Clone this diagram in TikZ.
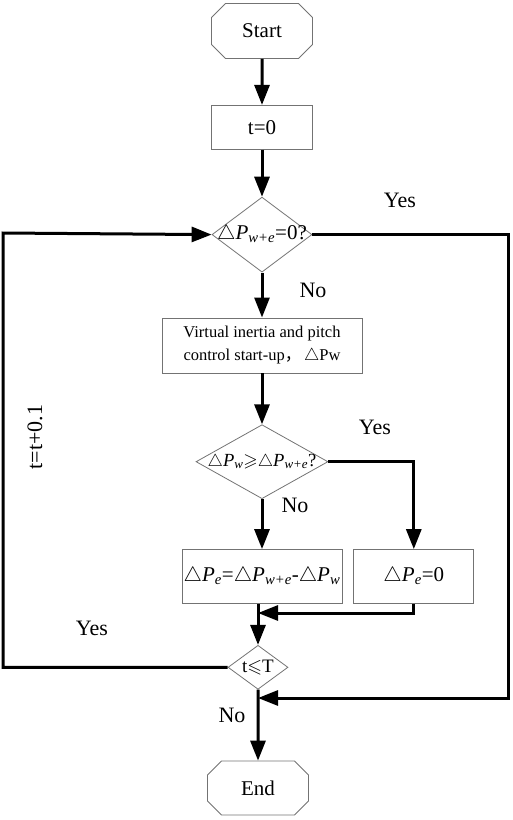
\documentclass[tikz,border=0pt]{standalone}
\usepackage{fontspec}
\setmainfont{Liberation Serif}
\newfontfamily\cjk{Noto Sans CJK SC}
\usepackage{amssymb}
\usetikzlibrary{shapes.geometric,shapes.misc}
\usetikzlibrary{arrows.meta}
\usetikzlibrary{positioning}

\newcommand{\dP}[1]{$\triangle$\textit{P}\textsubscript{\textit{#1}}}

\tikzset{
  box/.style={draw=black!55, line width=0.8pt, rectangle, inner sep=0pt, align=center},
  terminal/.style={draw=black!55, line width=0.8pt, chamfered rectangle,
    chamfered rectangle xsep=7pt, chamfered rectangle ysep=7pt, inner sep=0pt,
    minimum width=101pt, minimum height=55pt, font=\fontsize{21}{25}\selectfont},
  decision/.style={draw=black!55, line width=0.8pt, diamond, inner sep=0pt},
  flow/.style={draw, line width=3pt, ->},
  lbl/.style={font=\fontsize{22}{26}\selectfont},
  >={Triangle[length=20pt,width=15pt]},
}

\begin{document}
\begin{tikzpicture}[x=1pt,y=-1pt]
        \useasboundingbox (0,0) rectangle (512,820);

        \node[terminal]                                (start)   at (262,31) {Start};
        \node[box, minimum width=101pt, minimum height=44pt,
              font=\fontsize{21}{25}\selectfont, below=46pt of start] (init) {t=0};
        \node[decision, minimum width=100pt, minimum height=75pt,
              font=\fontsize{21}{25}\selectfont, below=47pt of init] (d1)
              {\makebox[0pt]{\dP{w+e}=0?}};
        \node[box, minimum width=200pt, minimum height=55pt,
              font=\fontsize{16.5}{23}\selectfont, below=45pt of d1] (startup)
              {Virtual inertia and pitch\\control start-up{\cjk ，}\,$\triangle$Pw};
        \node[decision, minimum width=132pt, minimum height=74pt,
              font=\fontsize{18.5}{22}\selectfont, below=51pt of startup] (d2)
              {\makebox[0pt]{\dP{w}$\geqslant$\dP{w+e}?}};
        \node[box, minimum width=160pt, minimum height=54pt,
              font=\fontsize{21}{25}\selectfont, below=50pt of d2] (split)
              {\dP{e}=\dP{w+e}-\dP{w}};
        \node[box, minimum width=120pt, minimum height=54pt,
              font=\fontsize{21}{25}\selectfont, right=11pt of split] (zero)
              {\dP{e}=0};
        \node[decision, minimum width=60pt, minimum height=44pt,
              font=\fontsize{19}{22}\selectfont, below=41pt of split, xshift=-4pt] (check)
              {\makebox[0pt]{t$\leqslant$T}};
        \node[terminal, minimum height=54pt]           (finish)  at (258,788) {End};

        % branch labels
        \node[lbl] (yes1) at (400,200) {Yes};
        \node[lbl] (no1)  at (313,290) {No};
        \node[lbl] (yes2) at (375,427) {Yes};
        \node[lbl] (no2)  at (295,505) {No};
        \node[lbl] (yes3) at (92,628)  {Yes};
        \node[lbl] (no3)  at (232,715) {No};
        \node[lbl, rotate=90] (incr) at (35,437) {t=t+0.1};

        \coordinate (j1) at (258,613);
        \coordinate (j2) at (258,698);
        \coordinate (rr) at (508,698);
        \coordinate (ll) at (3,233);

        \draw[flow] (start) -- (init);
        \draw[flow] (init) -- (d1);
        \draw[flow] (d1) -- (startup);
        \draw[flow] (startup) -- (d2);
        \draw[flow] (d2) -- (split);
        \draw[flow] (d2.east) -| (zero.north);
        \draw[flow] (split.south -| check.north) -- (check.north);
        \draw[flow] (zero.south) |- (j1);
        \draw[flow] (check) -- (finish);
        \draw[flow] (d1.east) -| (rr) -- (j2);
        \draw[flow] (check.west) -| (ll) -- (d1.west);
      \end{tikzpicture}
\end{document}
